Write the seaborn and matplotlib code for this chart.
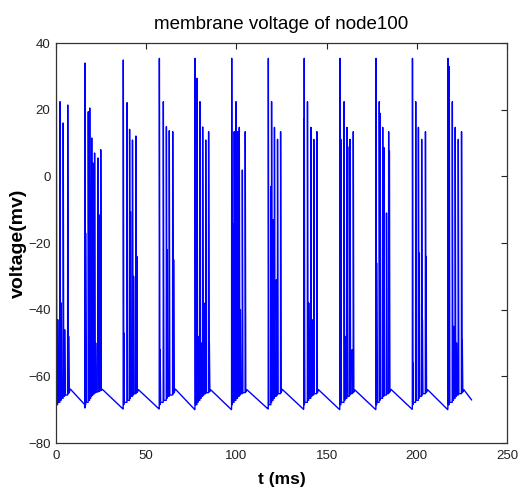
import matplotlib
matplotlib.use("Agg")
import matplotlib.pyplot as plt
import seaborn as sns
import pandas as pd

# spike times (ms) and peak voltages (mV), one list per burst
spike_t = [
    [0.15, 0.96, 2.2, 2.9, 4.0, 4.8, 6.5, 7.0],
    [16.1, 16.4, 17.9, 18.7, 19.3, 19.8, 20.5, 21.4, 22.0, 23.3, 24.1, 24.8],
    [37.3, 37.6, 39.4, 40.8, 41.3, 42.4, 43.0, 44.3, 44.8],
    [57.3, 57.7, 59.5, 61.2, 61.7, 62.8, 64.7, 65.2],
    [77.1, 78.2, 78.8, 79.8, 80.5, 81.3, 82.0, 83.0, 84.6, 85.0],
    [97.4, 97.8, 98.8, 99.8, 100.7, 101.6, 102.2, 103.3, 104.9],
    [117.7, 119.2, 119.5, 120.4, 121.1, 122.2, 122.8, 124.5],
    [137.4, 137.6, 139.4, 140.1, 141.3, 141.9, 142.9, 144.6],
    [157.4, 157.9, 159.7, 160.2, 161.3, 162.6, 163.0, 164.2, 164.8],
    [177.4, 177.7, 179.2, 179.7, 181.1, 181.8, 183.2, 184.4, 184.8],
    [197.6, 197.8, 199.4, 200.9, 201.3, 202.7, 203.1, 204.8, 205.1],
    [217.3, 218.0, 219.7, 220.4, 221.3, 222.0, 223.0, 224.8, 225.2],
]
spike_v = [
    [40, -43, 22.4, -38, 16, -46, 21.4, -48],
    [34, -17, 19.4, 20.5, -30, 11.5, 4, 7, -50, 5.5, -11.6, 8],
    [34.9, -47, 22.1, 14.1, -10.6, 10.9, -30, 12.1, -24],
    [35.4, -52, 22.4, 14.9, -22, 13.7, 13.4, -25],
    [35.4, 29.4, -48, 22.4, -50, 14.8, -38, 10.9, 13.4, -50],
    [35.4, -14, 13.4, 22.4, 13.4, 14.7, -40, 1.9, 13.4],
    [35.4, -3, 22.4, -13, 14.7, -31, 11.1, 13.4],
    [17.1, 35.4, 22.4, -38, 14.7, -43, 11.1, 13.4],
    [35.4, 11.1, 22.4, -48, 14.7, 8.9, 11.1, -52, 13.4],
    [35.4, -26, 22.4, 18.9, 14.7, 8.6, -11, 13.4, 7.6],
    [35.4, -56, 22.4, 14.7, -23, 11.1, -43, 13.4, -24],
    [35.4, 32.9, 22.4, -45, 14.7, -50, 11.1, 13.4, -49],
]
# trough level between successive spikes of a burst (rises through the burst)
troughs = [-69.5, -68.5, -67.8, -67.2, -66.6, -66.0, -65.6, -65.2, -64.9, -64.7, -64.5, -64.3, -64.2]
# level reached after each burst, and level just before the next one
rest_after = [-63.8, -63.9, -64.0, -63.8, -64.1, -64.0, -63.9, -64.0, -64.1, -63.9, -64.0, -64.0]
rest_before = [-68.5, -69.8, -69.8, -70.0, -70.0, -69.8, -69.9, -70.0, -70.0, -69.9, -70.0, -67.1]
end_t = 230.4

t_all, v_all = [], []
for i in range(len(spike_t)):
    for k, (t, v) in enumerate(zip(spike_t[i], spike_v[i])):
        t_all += [t - 0.08, t, t + 0.3]
        v_all += [troughs[k], v, troughs[k + 1]]
    last = spike_t[i][-1]
    t_all.append(last + 0.9)
    v_all.append(rest_after[i])
    nxt = spike_t[i + 1][0] - 0.15 if i + 1 < len(spike_t) else end_t
    t_all.append(nxt)
    v_all.append(rest_before[i])

df = pd.DataFrame({"t": t_all, "v": v_all})

sns.set_style("white")
plt.rcParams["font.family"] = ["Liberation Sans", "DejaVu Sans"]
plt.rcParams["text.color"] = "black"

fig = plt.figure(figsize=(5.18, 4.88), dpi=100)
ax = fig.add_axes([56 / 518, 45 / 488, 451 / 518, 400 / 488])
sns.lineplot(data=df, x="t", y="v", sort=False, estimator=None,
             color=(0, 0, 1), linewidth=1.0, ax=ax)

ax.set_xlim(0, 250)
ax.set_ylim(-80, 40)
ax.set_xticks([0, 50, 100, 150, 200, 250])
ax.set_yticks([-80, -60, -40, -20, 0, 20, 40])
ax.tick_params(direction="in", length=4, width=0.8, top=True, right=True,
               labelsize=9.5, colors="#222222")
ax.tick_params(axis="x", pad=5)
ax.tick_params(axis="y", pad=4)
for s in ax.spines.values():
    s.set_color("#333333")
    s.set_linewidth(0.9)

ax.set_title("membrane voltage of node100", fontsize=13.5, pad=10, color="black")
ax.set_xlabel("t (ms)", fontsize=12.5, fontweight="bold", labelpad=7, color="black")
ax.set_ylabel("voltage(mv)", fontsize=14, fontweight="bold", labelpad=1, color="black")

fig.savefig("out.png", dpi=100)
